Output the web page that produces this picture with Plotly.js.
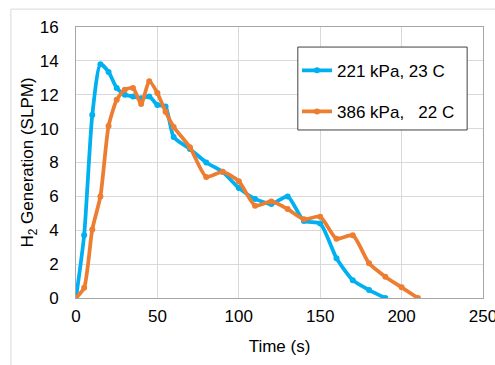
<!DOCTYPE html>
<html>
<head>
<meta charset="utf-8">
<script src="https://cdn.plot.ly/plotly-3.0.1.min.js"></script>
<style>html,body{margin:0;padding:0;background:#fff;}#chart{width:495px;height:365px;}</style>
</head>
<body>
<div id="chart"></div>
<script>
// Series 1: 221 kPa, 23 C
const blueName = "221 kPa, 23 C";
const blueX = [0,5,10,15,20,25,30,35,40,45,50,55,60,70,80,90,100,110,120,130,140,150,160,170,180,190];
const blueY = [0,3.7,10.8,13.8,13.35,12.4,12.0,11.9,11.8,11.9,11.4,11.3,9.5,8.8,8.0,7.45,6.5,5.85,5.55,6.0,4.55,4.4,2.35,1.05,0.47,0];
// Series 2: 386 kPa, 22 C
const orangeName = "386 kPa,   22 C";
const orangeX = [0,5,10,15,20,25,30,35,40,45,50,55,60,70,80,90,100,110,120,130,140,150,160,170,180,190,200,210];
const orangeY = [0,0.6,4.05,6.0,10.15,11.7,12.3,12.4,11.45,12.8,12.1,11.0,10.1,8.9,7.15,7.45,6.9,5.45,5.7,5.25,4.65,4.8,3.5,3.7,2.05,1.26,0.63,0];
// Axis ticks
const xTicks = [0,50,100,150,200,250];
const yTicks = [0,2,4,6,8,10,12,14,16];
const xTitle = "Time (s)";
const yTitle = "H<sub>2</sub> Generation (SLPM)";

const font = "Liberation Sans, Arial, sans-serif";
const fs = 17;
const traces = [
  {x: blueX, y: blueY, name: blueName, type: "scatter", mode: "lines+markers",
   line: {color: "#00b0f0", width: 3.75, shape: "spline", smoothing: 0.6},
   marker: {color: "#00b0f0", size: 6}, legendgroup: "a"},
  {x: orangeX, y: orangeY, name: orangeName, type: "scatter", mode: "lines+markers",
   line: {color: "#ed7d31", width: 3.75, shape: "spline", smoothing: 0.6},
   marker: {color: "#ed7d31", size: 6}, legendgroup: "b"}
];
const axisCommon = {
  showgrid: true, gridcolor: "#d9d9d9", gridwidth: 1,
  showline: true, linecolor: "#a6a6a6", linewidth: 1, mirror: true,
  zeroline: false, ticks: "", ticklabeloverflow: "allow",
  tickfont: {family: font, size: fs, color: "#000"}
};
const layout = {
  width: 495, height: 365,
  margin: {l: 76, r: 12, t: 27, b: 67},
  paper_bgcolor: "#fff", plot_bgcolor: "#fff",
  font: {family: font, color: "#000"},
  showlegend: true,
  legend: {x: 0.543, y: 0.905, xanchor: "left", yanchor: "top",
    bgcolor: "rgba(0,0,0,0)", borderwidth: 0,
    font: {family: font, size: fs, color: "#000"},
    traceorder: "grouped", tracegroupgap: 16, itemwidth: 30},
  xaxis: Object.assign({}, axisCommon, {range: [0, 250], tickvals: xTicks,
    ticklabelstandoff: 3,
    title: {text: xTitle, font: {family: font, size: fs, color: "#000"}, standoff: 14}}),
  yaxis: Object.assign({}, axisCommon, {range: [0, 16], tickvals: yTicks,
    ticklabelstandoff: 13,
    title: {text: yTitle, font: {family: font, size: fs, color: "#000"}, standoff: 1}}),
  shapes: [
    {type: "rect", xref: "paper", yref: "paper", x0: -0.16, x1: 1.3, y0: -0.4, y1: 1.066,
     line: {color: "#d9d9d9", width: 1}, fillcolor: "rgba(0,0,0,0)", layer: "below"},
    {type: "rect", xref: "paper", yref: "paper", x0: 0.545, x1: 0.961, y0: 0.62, y1: 0.926,
     line: {color: "#404040", width: 1}, fillcolor: "#fff", layer: "above"}
  ]
};
Plotly.newPlot("chart", traces, layout, {displayModeBar: false, staticPlot: true});
</script>
</body>
</html>
